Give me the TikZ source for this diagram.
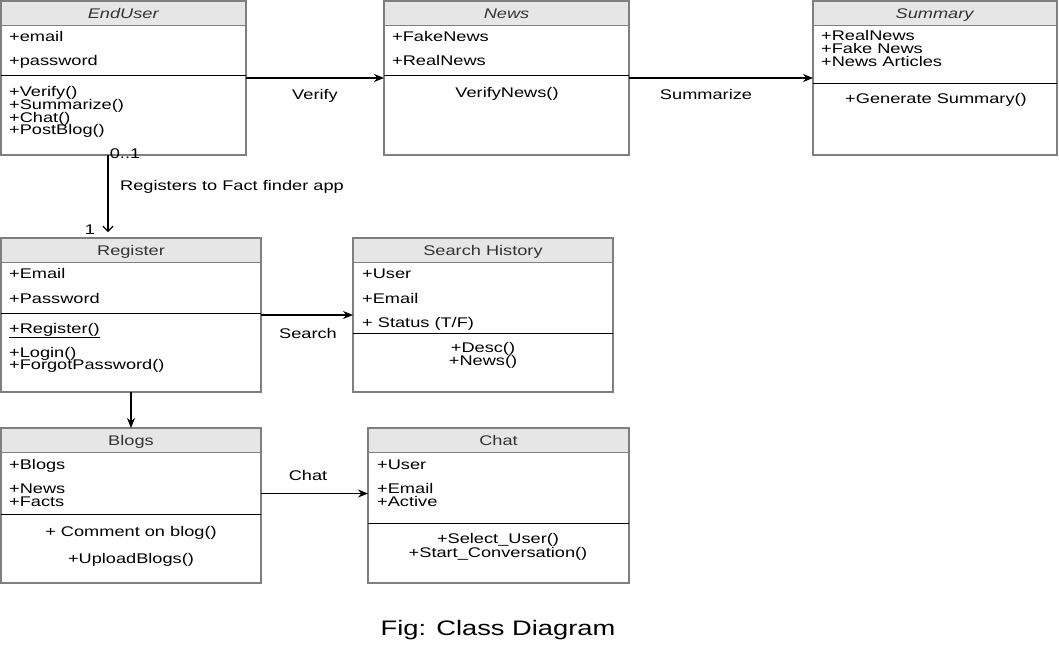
\documentclass[tikz,border=0pt]{standalone}
\usepackage{fontspec}
\setmainfont{Liberation Sans}[FakeStretch=1.3]
\usetikzlibrary{arrows.meta}
\definecolor{bordergray}{HTML}{7F7F7F}
\definecolor{headfill}{HTML}{E6E6E6}
\definecolor{headtext}{HTML}{333333}
\tikzset{
  classbox/.style={draw=bordergray, line width=1.1pt, rectangle, anchor=north west, inner sep=0pt, outer sep=0pt},
  headlabel/.style={text=headtext, inner sep=0pt, anchor=base},
  member/.style={inner sep=0pt, anchor=base west},
  cmember/.style={inner sep=0pt, anchor=base},
  divider/.style={draw=black, line width=0.9pt},
  headline/.style={draw=bordergray, line width=1pt},
  assoc/.style={draw=black, line width=1.2pt, -{Stealth[length=10pt,width=8pt]}},
  openassoc/.style={draw=black, line width=1.2pt, -{Straight Barb[length=5pt,width=10pt]}},
  linklabel/.style={inner sep=0pt, anchor=base},
}
% name, x, y, w, h, title, divider y
\newcommand{\umlclass}[7]{%
  \fill[headfill] (#2,#3) rectangle ({#2+#4},{#3+24});
  \node[classbox, minimum width=#4, minimum height=#5] (#1) at (#2,#3) {};
  \draw[headline] (#2,{#3+24}) -- ({#2+#4},{#3+24});
  \draw[divider] (#2,#7) -- ({#2+#4},#7);
  \node[headlabel] (#1-title) at ({#2+#4/2},{#3+17}) {#6};
}
\newcommand{\mem}[4]{\node[member] (#1) at (#2,{#3+5}) {#4};}
\newcommand{\cmem}[4]{\node[cmember] (#1) at (#2,{#3+5}) {#4};}
\begin{document}
\begin{tikzpicture}[x=1pt,y=-1pt, font=\fontsize{14}{16}\selectfont]
\useasboundingbox (0,0) rectangle (1059,646);

% EndUser
\umlclass{enduser}{1}{1}{245}{154}{\textit{EndUser}}{75}
\mem{eu1}{9}{36}{+email}
\mem{eu2}{9}{60}{+password}
\mem{eu3}{9}{91}{+Verify()}
\mem{eu4}{9}{104}{+Summarize()}
\mem{eu5}{9}{117}{+Chat()}
\mem{eu6}{9}{129}{+PostBlog()}

% News
\umlclass{news}{384}{1}{245}{154}{\textit{News}}{75}
\mem{nw1}{392}{36}{+FakeNews}
\mem{nw2}{392}{60}{+RealNews}
\cmem{nw3}{507}{92}{VerifyNews()}

% Summary
\umlclass{summary}{813}{1}{244}{154}{\textit{Summary}}{83}
\mem{sm1}{821}{35}{+RealNews}
\mem{sm2}{821}{48}{+Fake News}
\mem{sm3}{821}{61}{+News Articles}
\cmem{sm4}{936}{98}{+Generate Summary()}

% Register
\umlclass{register}{1}{238}{260}{154}{Register}{313}
\mem{rg1}{9}{273}{+Email}
\mem{rg2}{9}{298}{+Password}
\mem{rg3}{9}{328}{\underline{+Register()}}
\mem{rg4}{9}{352}{+Login()}
\mem{rg5}{9}{364}{+ForgotPassword()}

% Search History
\umlclass{search}{353}{238}{260}{154}{Search History}{333}
\mem{sh1}{362}{273}{+User}
\mem{sh2}{362}{298}{+Email}
\mem{sh3}{362}{322}{+ Status (T/F)}
\cmem{sh4}{483}{347}{+Desc()}
\cmem{sh5}{483}{360}{+News()}

% Blogs
\umlclass{blogs}{1}{428}{260}{155}{Blogs}{514}
\mem{bl1}{9}{464}{+Blogs}
\mem{bl2}{9}{488}{+News}
\mem{bl3}{9}{501}{+Facts}
\cmem{bl4}{131}{531}{+ Comment on blog()}
\cmem{bl5}{131}{558}{+UploadBlogs()}

% Chat
\umlclass{chat}{368}{428}{261}{155}{Chat}{523}
\mem{ch1}{377}{464}{+User}
\mem{ch2}{377}{488}{+Email}
\mem{ch3}{377}{501}{+Active}
\cmem{ch4}{498}{538}{+Select\_User()}
\cmem{ch5}{498}{552}{+Start\_Conversation()}

% connectors
\draw[assoc] (enduser.east) -- (news.west);
\node[linklabel] (lverify) at (315,99) {Verify};
\draw[assoc] (news.east) -- (summary.west);
\node[linklabel] (lsumm) at (706,99) {Summarize};
\draw[assoc] (register.east) -- (search.west);
\node[linklabel] (lsearch) at (308,338) {Search};
\draw[assoc] ([yshift=12pt]blogs.east) -- ([yshift=12pt]blogs.east -| chat.west);
\node[linklabel] (lchat) at (308,480) {Chat};
\draw[assoc] (register.south) -- (blogs.north);

\coordinate (regtop) at ([xshift=107pt]enduser.south west);
\draw[openassoc, shorten >=6pt] (regtop) -- (regtop |- register.north);
\node[linklabel] (mult1) at (125,158) {0..1};
\node[linklabel] (mult2) at (90,234) {1};
\node[linklabel] (lreg) at (232,190) {Registers to Fact finder app};

% caption
\node[linklabel, font=\fontsize{21}{25}\selectfont] (caption) at (498,635) {Fig: Class Diagram};
\end{tikzpicture}
\end{document}
